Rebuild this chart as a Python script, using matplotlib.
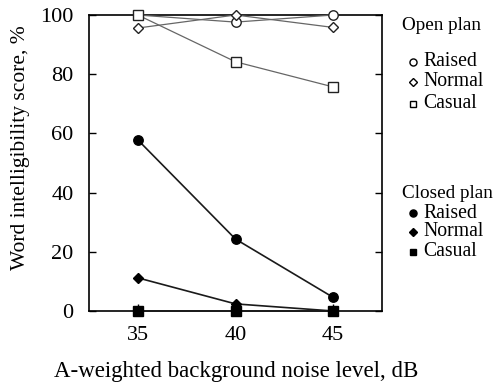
import matplotlib
matplotlib.use("Agg")
import matplotlib.pyplot as plt
from matplotlib.lines import Line2D

# noise levels, dB
levels = [35, 40, 45]

# open plan scores, %
open_raised = [100, 97.6, 100]
open_normal = [95.6, 100, 95.8]
open_casual = [100, 84.2, 75.7]

# closed plan scores, %
closed_raised = [57.8, 24.3, 4.6]
closed_normal = [11.2, 2.4, 0]
closed_casual = [0, 0, 0]

labels = ["Raised", "Normal", "Casual"]
markers = ["o", "D", "s"]
msizes = [6.8, 5.0, 6.5]

plt.rcParams["font.family"] = ["Liberation Serif", "DejaVu Serif"]

W, H = 497, 387
fig = plt.figure(figsize=(W / 100, H / 100), dpi=100)
ax = fig.add_axes([89 / W, 1 - 311 / H, (382 - 89) / W, (311 - 15) / H])

for ys, m, ms in zip([open_raised, open_normal, open_casual], markers, msizes):
    ax.plot(levels, ys, color="#666666", lw=0.9, marker=m, ms=ms,
            mfc="white", mec="#222222", mew=1.0, clip_on=False, zorder=3)
for ys, m, ms in zip([closed_raised, closed_normal, closed_casual], markers, msizes):
    ax.plot(levels, ys, color="#1a1a1a", lw=1.2, marker=m, ms=ms,
            mfc="black", mec="black", clip_on=False, zorder=4)

ax.set_xlim(32.5, 47.5)
ax.set_ylim(0, 100)
ax.set_xticks(levels)
ax.set_yticks([0, 20, 40, 60, 80, 100])
ax.tick_params(direction="in", length=5, width=1, right=True, top=False,
               labelsize=16, pad=11)
for s in ax.spines.values():
    s.set_linewidth(1.2)

fig.text(236 / W, 1 - 372 / H, "A-weighted background noise level, dB",
         fontsize=16.5, ha="center", va="center")
fig.text(21 / W, 1 - 148 / H, "Word intelligibility score, %",
         fontsize=15.5, ha="center", va="center", rotation=90)

# legend drawn by hand: group title, then marker + label rows
groups = [("Open plan", False, 25, [62, 82, 104]),
          ("Closed plan", True, 193, [213, 232, 252])]
for title, filled, ty, rows in groups:
    fig.text(402 / W, 1 - ty / H, title, fontsize=13.8, va="center")
    for lab, m, ms, ry in zip(labels, markers, msizes, rows):
        fig.add_artist(Line2D([413 / W], [1 - ry / H], transform=fig.transFigure,
                              ls="none", marker=m, ms=ms * 0.75,
                              mfc="black" if filled else "white", mec="black", mew=1.0))
        fig.text(423 / W, 1 - ry / H, lab, fontsize=14.2, va="center")

fig.savefig("out.png", dpi=100)
